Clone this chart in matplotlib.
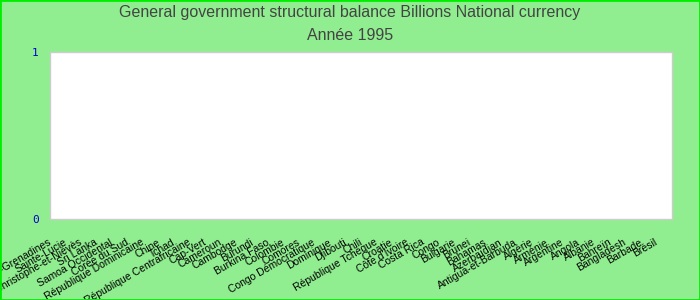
import numpy as np
import matplotlib.pyplot as plt
import matplotlib.transforms as mtransforms

# pays (ordre du graphique) et valeurs 1995 -- aucune donnée disponible
pays = ["Saint-Vincent-et-les-Grenadines", "Sainte-Lucie", "Saint-Christophe-et-Niévès",
        "Sri Lanka", "Samoa Occidental", "Corée du Sud", "République Dominicaine",
        "Chine", "Tchad", "République Centrafricaine", "Cap-Vert", "Cameroun",
        "Cambodge", "Burundi", "Burkina Faso", "Colombie", "Comores",
        "Congo Démocratique", "Dominique", "Djibouti", "Chili", "République Tchèque",
        "Croatie", "Côte d'Ivoire", "Costa Rica", "Congo", "Bulgarie", "Brunei",
        "Bahamas", "Azerbaïdjan", "Antigua-et-Barbuda", "Algérie", "Arménie",
        "Argentine", "Angola", "Albanie", "Bahreïn", "Bangladesh", "Barbade", "Brésil"]
valeurs = [None, None, None, None, None, None, None, None, None, None,
           None, None, None, None, None, None, None, None, None, None,
           None, None, None, None, None, None, None, None, None, None,
           None, None, None, None, None, None, None, None, None, None]
y_ticks = [0, 1]

plt.rcParams["font.family"] = ["Liberation Sans", "DejaVu Sans"]

fig = plt.figure(figsize=(7, 3), dpi=100, facecolor="#90EE90")
ax = fig.add_axes([50 / 700, 1 - 219 / 300, 622 / 700, 167 / 300])
ax.set_facecolor("white")

x = np.arange(len(pays))
h = np.array([np.nan if v is None else v for v in valeurs], dtype=float)
ax.bar(x, h, width=0.8, color="#4572A7", linewidth=0)

ax.set_xlim(-0.5, len(pays) - 0.5)
ax.set_ylim(0, 1)
ax.set_yticks(y_ticks)
ax.set_yticklabels([str(t) for t in y_ticks], color="#0000CC",
                   family="DejaVu Sans Mono", fontsize=8)
ax.set_xticks(x)
ax.set_xticklabels(pays, rotation=30, ha="right", va="top",
                   rotation_mode="anchor", fontsize=7.5, color="black")
ax.tick_params(axis="both", length=0, pad=3)
ax.tick_params(axis="y", pad=8)

# décalage des étiquettes (plus bas et à gauche)
offset = mtransforms.ScaledTranslation(-10 / 100, -14 / 100, fig.dpi_scale_trans)
for lab in ax.get_xticklabels():
    lab.set_transform(lab.get_transform() + offset)

for s in ax.spines.values():
    s.set_color("#cccccc")
    s.set_linewidth(1)

fig.text(0.5, 1 - 13 / 300, "General government structural balance Billions National currency",
         ha="center", va="center", fontsize=11.5, color="#444444")
fig.text(0.5, 1 - 35 / 300, "Année 1995", ha="center", va="center",
         fontsize=11.5, color="#444444")

# cadre vert autour de l'image
fig.patches.append(plt.Rectangle((0, 0), 1, 1, transform=fig.transFigure,
                                 fill=False, edgecolor="#00EE00", linewidth=2))

fig.savefig("out.png", dpi=100, facecolor=fig.get_facecolor())
